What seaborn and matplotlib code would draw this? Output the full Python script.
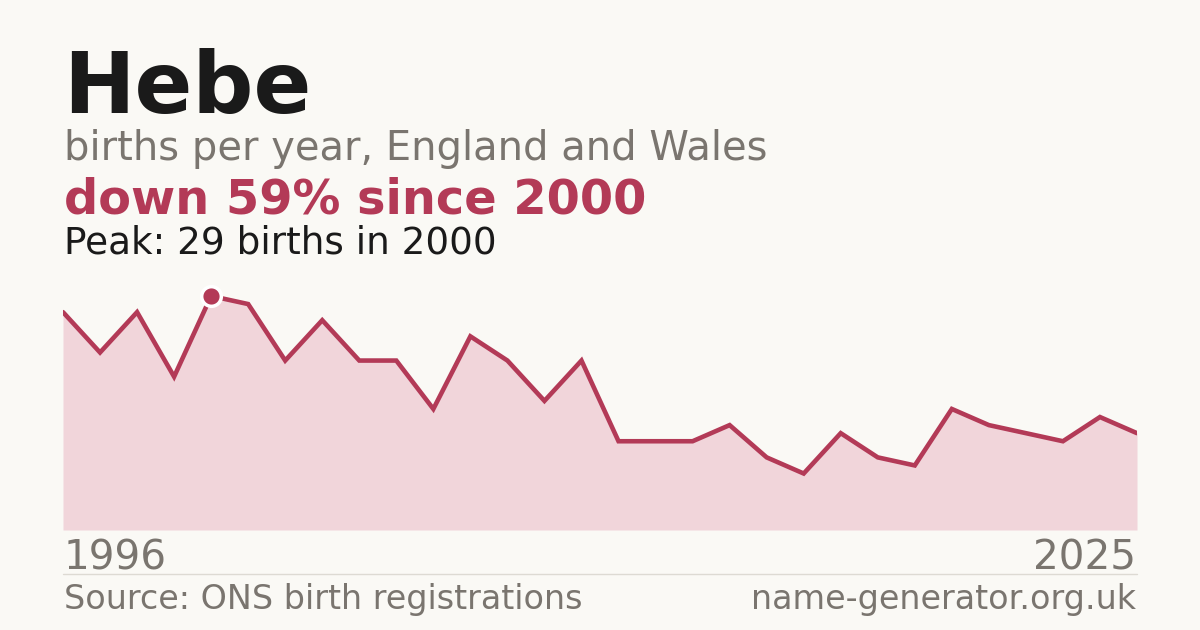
import matplotlib
matplotlib.use("Agg")
import matplotlib.pyplot as plt
import seaborn as sns
import pandas as pd

years = list(range(1996, 2026))
births = [27, 22, 27, 19, 29, 28, 21, 26, 21, 21, 15, 24, 21, 16, 21,
          11, 11, 11, 13, 9, 7, 12, 9, 8, 15, 13, 12, 11, 14, 12]

name = "Hebe"
subtitle = "births per year, England and Wales"
headline = "down 59% since 2000"
peak_text = "Peak: 29 births in 2000"
source_text = "Source: ONS birth registrations"
site_text = "name-generator.org.uk"

BG = "#faf9f5"
LINE = "#b33a57"
FILL = "#f1d5da"
GREY = "#7a756f"
DARK = "#1a1a1a"

sns.set_theme(style="white")
plt.rcParams['font.family'] = ['DejaVu Sans']

df = pd.DataFrame({"year": years, "births": births})

W, H = 1200, 630
fig = plt.figure(figsize=(12, 6.3), dpi=100, facecolor=BG)

def fx(x):
    return x / W

def fy(y):
    return 1 - y / H

left, right, bottom = 63, 1137, 530
ymax = 30
px_per = (530 - 296) / 29.0
top = bottom - ymax * px_per
ax = fig.add_axes([fx(left), fy(bottom), (right - left) / W, (bottom - top) / H])
ax.set_facecolor(BG)
ax.patch.set_alpha(0)

ax.fill_between(df["year"], df["births"], 0, color=FILL, linewidth=0, zorder=1)
sns.lineplot(data=df, x="year", y="births", ax=ax, color=LINE, linewidth=3.3,
             zorder=3, solid_joinstyle="miter")
pk = df.loc[df["births"].idxmax()]
ax.scatter([pk["year"]], [pk["births"]], s=200, color=LINE, edgecolor="white",
           linewidth=2.5, zorder=5, clip_on=False)

ax.set_xlim(years[0], years[-1])
ax.set_ylim(0, ymax)
ax.set_xlabel("")
ax.set_ylabel("")
ax.set_xticks([])
ax.set_yticks([])
for s in ax.spines.values():
    s.set_visible(False)

fig.text(fx(63), fy(113), name, fontsize=61.5, fontweight="bold", color=DARK, va="baseline", ha="left")
fig.text(fx(64), fy(160), subtitle, fontsize=28.8, color=GREY, va="baseline", ha="left")
fig.text(fx(64), fy(214), headline, fontsize=34.5, fontweight="bold", color=LINE, va="baseline", ha="left")
fig.text(fx(64), fy(254), peak_text, fontsize=26.9, color=DARK, va="baseline", ha="left")

fig.text(fx(64), fy(569), str(years[0]), fontsize=29.2, color=GREY, va="baseline", ha="left")
fig.text(fx(1136), fy(569), str(years[-1]), fontsize=29.2, color=GREY, va="baseline", ha="right")

fig.add_artist(plt.Line2D([fx(63), fx(1137)], [fy(574), fy(574)], color="#dddad3", linewidth=1))

fig.text(fx(64), fy(609), source_text, fontsize=24, color=GREY, va="baseline", ha="left")
fig.text(fx(1136), fy(609), site_text, fontsize=24, color=GREY, va="baseline", ha="right")

fig.savefig("out.png", dpi=100, facecolor=BG)
